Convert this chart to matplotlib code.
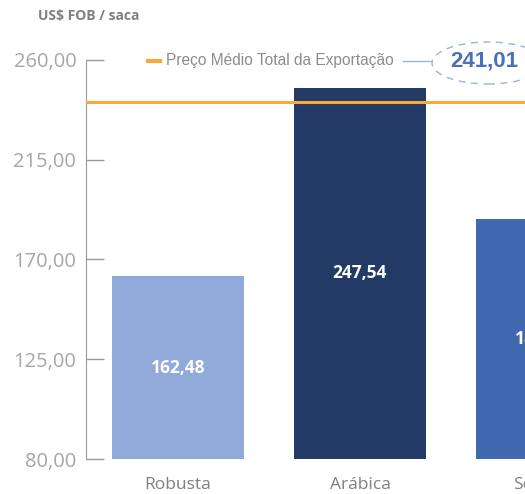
import matplotlib.pyplot as plt
from matplotlib.patches import Ellipse

# dados (US$ FOB / saca)
categorias = ['Robusta', 'Arábica', 'Solúvel']
precos = [162.48, 247.54, 188.30]
media_total = 241.01
yticks = [80, 125, 170, 215, 260]

cores = ['#91aad9', '#243a66', '#4169b0']
laranja = '#f7a93b'
cinza = '#a6a6a6'


def fmt(v):
    return f'{v:.2f}'.replace('.', ',')


fig = plt.figure(figsize=(5.25, 4.94), dpi=100)
# eixo estendido para a direita (o gráfico original está cortado)
ax = fig.add_axes([86 / 525, 35 / 494, 439 / 525, 399 / 494])

x = list(range(len(categorias)))
ax.bar(x, precos, width=0.725, color=cores, zorder=2)

# rótulos no meio de cada barra
for xi, v in zip(x, precos):
    ax.text(xi, (80 + v) / 2, fmt(v), ha='center', va='center', color='white',
            fontsize=12.5, fontweight='bold', family='Open Sans', zorder=3)

# nomes das categorias (como texto, pois a última fica fora da vista)
for xi, nome in zip(x, categorias):
    ax.annotate(nome, (xi, 0), xycoords=ax.get_xaxis_transform(),
                xytext=(0, -13), textcoords='offset points', ha='center',
                va='top', family='Open Sans', fontsize=12.5, color='#7f7f7f',
                annotation_clip=False)

ax.axhline(media_total, color=laranja, lw=2.2, zorder=4)

ax.set_yticks(yticks)
ax.set_yticklabels([fmt(t) for t in yticks], family='Open Sans', fontsize=14.5,
                   color=cinza)
ax.tick_params(axis='y', direction='in', length=13, width=1, color='#999999', pad=7)
ax.set_xticks([])

# limites
ax.set_xlim(-0.5055, 1.907)
ax.set_ylim(80, 260)

for s in ['top', 'right', 'bottom']:
    ax.spines[s].set_visible(False)
ax.spines['left'].set_color('#999999')

fig.text(38 / 525, 1 - 16 / 494, 'US$ FOB / saca', fontsize=10, fontweight='bold',
         color='#808080', family='Open Sans', va='center')

# legenda
yl = 1 - 61 / 494
fig.add_artist(plt.Line2D([148 / 525, 160 / 525], [yl, yl], color=laranja, lw=3))
fig.text(166 / 525, yl, 'Preço Médio Total da Exportação', fontsize=11.2,
         color='#8c8c8c', family='Liberation Sans', va='center')
fig.add_artist(plt.Line2D([403 / 525, 431 / 525], [yl, yl], color='#9db2e0', lw=1))
fig.add_artist(Ellipse((488 / 525, 1 - 63 / 494), 112 / 525, 42 / 494,
                       fill=False, ls=(0, (5, 4)), ec='#9db2e0', lw=1))
fig.text(484 / 525, 1 - 61 / 494, fmt(media_total), fontsize=16, fontweight='bold',
         color='#4a70b8', family='Liberation Sans', ha='center', va='center')

fig.savefig('out.png', dpi=100)
